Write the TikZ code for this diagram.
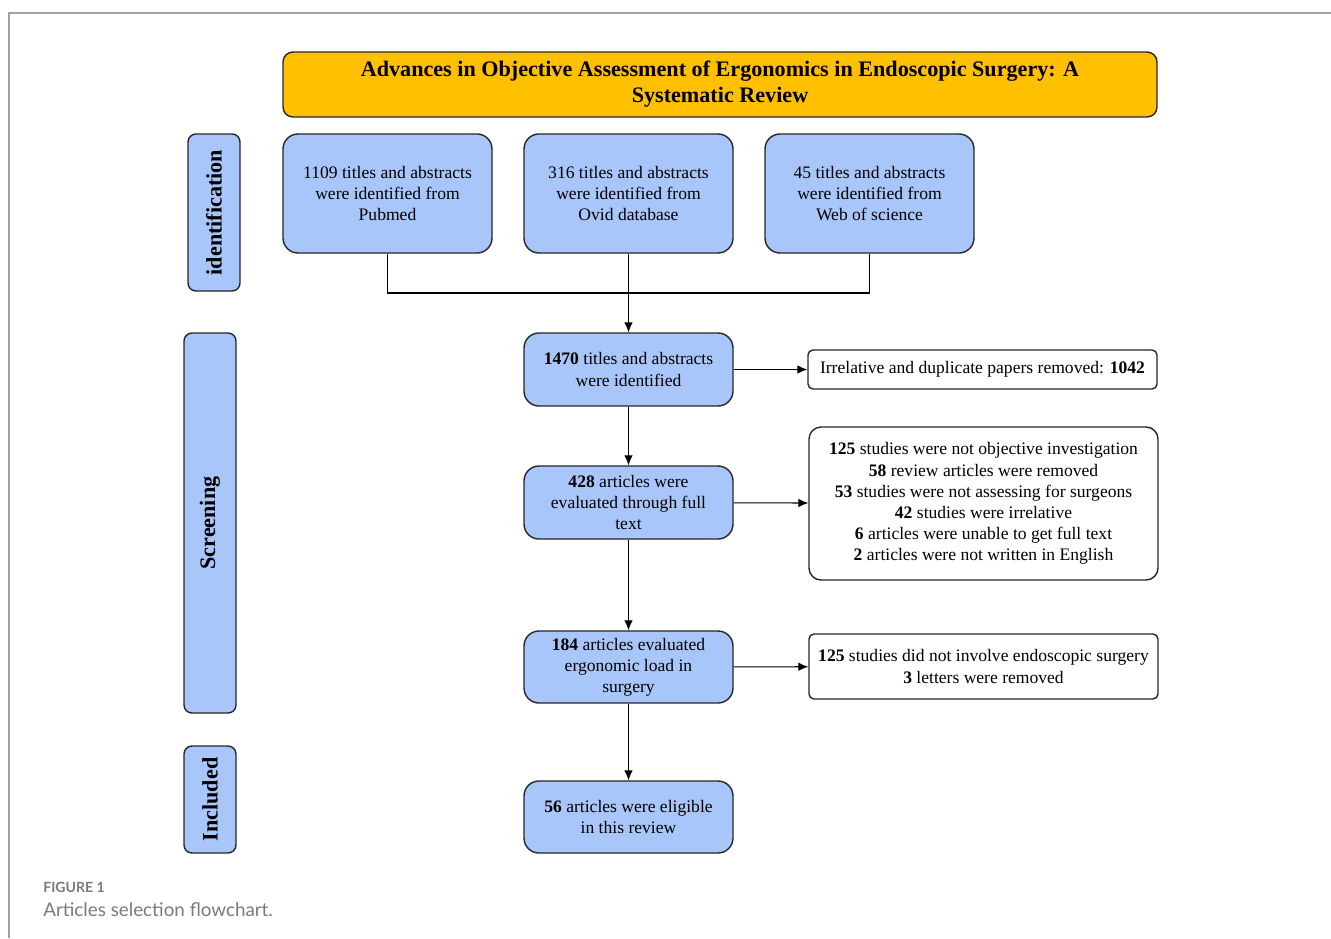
\documentclass[tikz,border=0pt]{standalone}
\usepackage{fontspec}
\setmainfont{Liberation Serif}
\newfontfamily\capfont{Lato}
\usepackage{xcolor}
\usetikzlibrary{arrows.meta}

\definecolor{titleyellow}{HTML}{FFC000}
\definecolor{boxblue}{HTML}{A9C6FA}
\definecolor{framegray}{HTML}{A0A0A0}
\definecolor{capgray}{HTML}{7A7A7A}

\begin{document}
\begin{tikzpicture}
        \tikzset{
        bluebox/.style={draw=black!85, line width=0.8pt, fill=boxblue, rounded corners=0.3cm,
            minimum width=4.18cm, minimum height=1.46cm, align=center, inner sep=2pt,
            font=\fontsize{10}{12}\selectfont},
        sidebox/.style={draw=black!85, line width=0.8pt, fill=boxblue, rounded corners=0.16cm,
            rotate=90, minimum height=1.04cm, font=\fontsize{12.6}{14}\selectfont\bfseries},
        whitebox/.style={draw=black!85, line width=0.8pt, fill=white, rounded corners=0.1cm,
            minimum width=6.98cm, align=center, inner sep=2pt,
            font=\fontsize{10}{12}\selectfont},
        arr/.style={-{Latex[length=2mm,width=1.7mm]}, line width=0.6pt},
        conn/.style={line width=0.6pt}}

        \useasboundingbox (0,0) rectangle (26.62,-18.76);

        % page frame
        \draw[framegray, line width=0.6pt] (26.62,-0.26) -- (0.18,-0.26) -- (0.18,-18.76);

        % title
        \node[draw=black!85, line width=0.8pt, fill=titleyellow, rounded corners=0.2cm,
            minimum width=17.48cm, minimum height=1.3cm, align=center,
            font=\fontsize{12.6}{14.7}\selectfont\bfseries] (title) at (14.4,-1.69)
            {Advances in Objective Assessment of Ergonomics in Endoscopic Surgery: A\\ Systematic Review};

        % stage labels
        \node[sidebox, minimum width=3.14cm] (ident) at (4.28,-4.25) {identification};
        \node[sidebox, minimum width=7.6cm] (screen) at (4.2,-10.46) {Screening};
        \node[sidebox, minimum width=2.14cm] (incl) at (4.2,-15.99) {Included};

        % sources
        \node[bluebox, minimum height=2.38cm] (pubmed) at (7.75,-3.87)
            {1109 titles and abstracts\\ were identified from\\ Pubmed};
        \node[bluebox, minimum height=2.38cm] (ovid) at (12.57,-3.87)
            {316 titles and abstracts\\ were identified from\\ Ovid database};
        \node[bluebox, minimum height=2.38cm] (wos) at (17.39,-3.87)
            {45 titles and abstracts\\ were identified from\\ Web of science};

        % main column
        \node[bluebox] (found) at (12.57,-7.39)
            {\textbf{1470} titles and abstracts\\ were identified};
        \node[bluebox] (fulltext) at (12.57,-10.05)
            {\textbf{428} articles were\\ evaluated through full\\ text};
        \node[bluebox, minimum height=1.44cm] (load) at (12.57,-13.34)
            {\textbf{184} articles evaluated\\ ergonomic load in\\ surgery};
        \node[bluebox, minimum height=1.44cm] (eligible) at (12.57,-16.34)
            {\textbf{56} articles were eligible\\ in this review};

        % exclusions
        \node[whitebox, minimum height=0.78cm] (dup) at (19.65,-7.39)
            {Irrelative and duplicate papers removed: \textbf{1042}};
        \node[whitebox, minimum height=3.06cm, rounded corners=0.24cm] (excl) at (19.67,-10.07)
            {\textbf{125} studies were not objective investigation\\
             \textbf{58} review articles were removed\\
             \textbf{53} studies were not assessing for surgeons\\
             \textbf{42} studies were irrelative\\
             \textbf{6} articles were unable to get full text\\
             \textbf{2} articles were not written in English};
        \node[whitebox, minimum height=1.3cm] (notendo) at (19.67,-13.33)
            {\textbf{125} studies did not involve endoscopic surgery\\ \textbf{3} letters were removed};

        % lines
        \coordinate (merge) at (12.57,-5.86);
        \draw[conn] (pubmed) |- (merge) -| (wos);
        \draw[arr] (ovid) -- (found);
        \draw[arr] (found) -- (fulltext);
        \draw[arr] (fulltext) -- (load);
        \draw[arr] (load) -- (eligible);
        \draw[arr] (found) -- (dup);
        \draw[arr] (fulltext) -- (excl);
        \draw[arr] (load) -- (notendo);

        % caption
        \node[anchor=west, inner sep=0pt, text=capgray, font=\capfont\bfseries\fontsize{8}{9}\selectfont] (fig) at (0.86,-17.74) {FIGURE 1};
        \node[anchor=west, inner sep=0pt, text=capgray, font=\capfont\fontsize{10.7}{12}\selectfont] (cap) at (0.86,-18.2) {Articles selection flowchart.};
    \end{tikzpicture}
\end{document}
